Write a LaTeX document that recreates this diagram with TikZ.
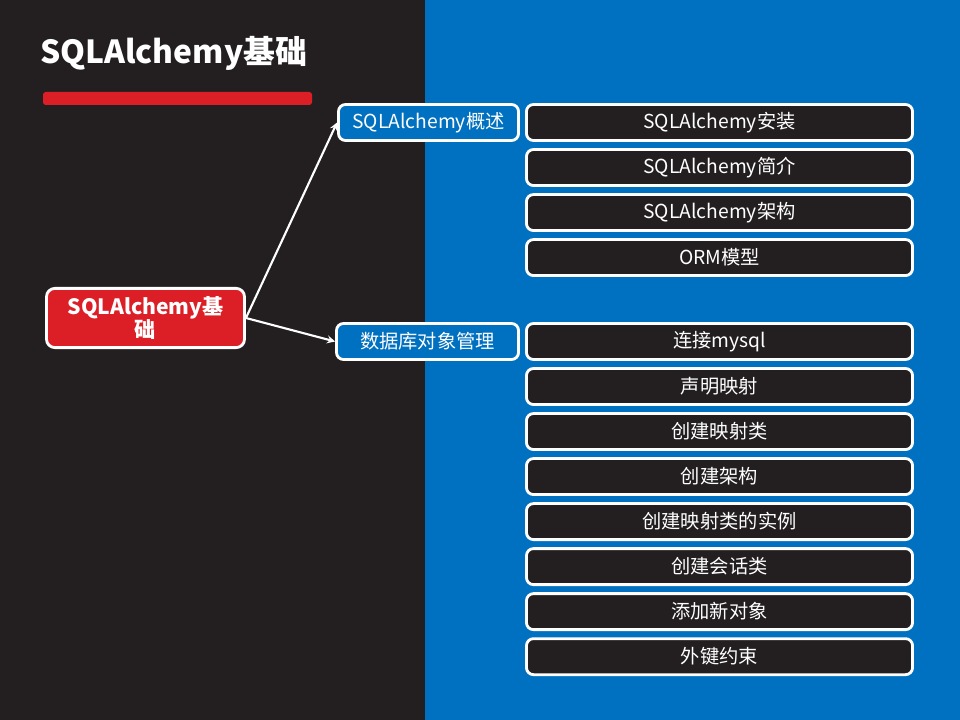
\documentclass[tikz,border=0pt]{standalone}
\usepackage{fontspec}
\setmainfont{Noto Sans CJK SC}
\usepackage{xcolor}
\usetikzlibrary{arrows,positioning}
\definecolor{darkbg}{HTML}{231F20}
\definecolor{bluebg}{HTML}{0070C0}
\definecolor{redbar}{HTML}{DC1F26}

\begin{document}
\begin{tikzpicture}[x=0.025cm,y=-0.025cm,>=stealth,
    leaf/.style={draw=white,line width=2pt,fill=darkbg,rounded corners=5pt,
      minimum width=9.65cm,minimum height=0.9cm,inner sep=0pt,text=white,
      font=\fontsize{13.7}{16}\selectfont},
    branch/.style={draw=white,line width=2pt,fill=bluebg,rounded corners=5pt,
      minimum width=4.5cm,minimum height=0.9cm,inner sep=0pt,text=white,
      font=\fontsize{13.7}{16}\selectfont},
    link/.style={->,white,line width=1.5pt}]
    \useasboundingbox (0,0) rectangle (960,720);
    % Background panels
    \fill[darkbg] (0,0) rectangle (425,720);
    \fill[bluebg] (425,0) rectangle (960,720);

    % Title and bar
    \node[anchor=west,text=white,font=\fontsize{22.6}{26}\selectfont\bfseries,inner sep=0pt] (title) at (40,53) {SQLAlchemy基础};
    \fill[redbar,rounded corners=2pt] (43,92) rectangle (312,105);

    % Root
    \node[draw=white,line width=2pt,fill=redbar,rounded corners=6pt,minimum width=4.95cm,
      minimum height=1.48cm,inner sep=0pt,text=white,align=center,
      font=\fontsize{15}{17}\selectfont\bfseries] (root) at (145.5,318) {SQLAlchemy基\\础};

    % First branch
    \node[branch] (intro) at (428.5,122.5) {SQLAlchemy概述};
    \node[leaf] (install) at (719.5,122.5) {SQLAlchemy安装};
    \node[leaf,below=0.155cm of install] (brief) {SQLAlchemy简介};
    \node[leaf,below=0.155cm of brief] (arch) {SQLAlchemy架构};
    \node[leaf,below=0.155cm of arch] (orm) {ORM模型};

    % Second branch
    \node[branch,minimum width=4.55cm] (dbobj) at (427.5,341.5) {数据库对象管理};
    \node[leaf] (connect) at (719.5,341.5) {连接mysql};
    \node[leaf,below=0.155cm of connect] (declare) {声明映射};
    \node[leaf,below=0.155cm of declare] (mapcls) {创建映射类};
    \node[leaf,below=0.155cm of mapcls] (schema) {创建架构};
    \node[leaf,below=0.155cm of schema] (inst) {创建映射类的实例};
    \node[leaf,below=0.155cm of inst] (session) {创建会话类};
    \node[leaf,below=0.155cm of session] (addobj) {添加新对象};
    \node[leaf,below=0.155cm of addobj] (fkey) {外键约束};

    % Connectors
    \draw[link] (root.east) -- (intro.west);
    \draw[link] (root.east) -- (dbobj.west);
\end{tikzpicture}
\end{document}
